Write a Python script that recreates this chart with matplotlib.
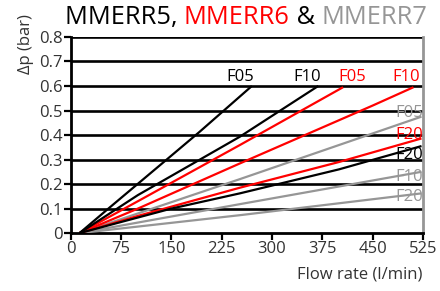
import matplotlib
matplotlib.use("Agg")
import matplotlib.pyplot as plt

plt.rcParams["font.family"] = ["Open Sans", "DejaVu Sans"]

BLACK = "#000000"
RED = "#ff0000"
GRAY = "#969696"

# flow rate (l/min) and pressure drop (bar)
mmerr5_f05_x = [13, 56, 143, 192, 270]
mmerr5_f05_y = [0.0, 0.10, 0.30, 0.413, 0.60]
mmerr5_f10_x = [13, 100, 252, 369]
mmerr5_f10_y = [0.0, 0.155, 0.393, 0.60]
mmerr5_f20_x = [13, 150, 252, 400, 523]
mmerr5_f20_y = [0.0, 0.10, 0.162, 0.26, 0.355]

mmerr6_f05_x = [13, 100, 252, 406]
mmerr6_f05_y = [0.0, 0.13, 0.359, 0.595]
mmerr6_f10_x = [13, 100, 252, 450, 511]
mmerr6_f10_y = [0.0, 0.10, 0.284, 0.52, 0.595]
mmerr6_f20_x = [13, 100, 252, 400, 523]
mmerr6_f20_y = [0.0, 0.07, 0.185, 0.29, 0.386]

mmerr7_f05_x = [13, 252, 523]
mmerr7_f05_y = [0.0, 0.22, 0.475]
mmerr7_f10_x = [13, 252, 523]
mmerr7_f10_y = [0.0, 0.118, 0.25]
mmerr7_f20_x = [13, 252, 523]
mmerr7_f20_y = [0.0, 0.073, 0.162]

series = [
    (mmerr7_f20_x, mmerr7_f20_y, GRAY),
    (mmerr7_f10_x, mmerr7_f10_y, GRAY),
    (mmerr7_f05_x, mmerr7_f05_y, GRAY),
    (mmerr6_f20_x, mmerr6_f20_y, RED),
    (mmerr6_f10_x, mmerr6_f10_y, RED),
    (mmerr6_f05_x, mmerr6_f05_y, RED),
    (mmerr5_f20_x, mmerr5_f20_y, BLACK),
    (mmerr5_f10_x, mmerr5_f10_y, BLACK),
    (mmerr5_f05_x, mmerr5_f05_y, BLACK),
]

# curve labels
top_labels = [("F05", 253, BLACK), ("F10", 352, BLACK),
              ("F05", 419, RED), ("F10", 500, RED)]
side_labels = [("F05", 0.49, GRAY), ("F20", 0.40, RED), ("F20", 0.318, BLACK),
               ("F10", 0.23, GRAY), ("F20", 0.148, GRAY)]

x_ticks = [0, 75, 150, 225, 300, 375, 450, 525]
y_ticks = [0, 0.1, 0.2, 0.3, 0.4, 0.5, 0.6, 0.7, 0.8]
y_ticklabels = ["0", "0.1", "0.2", "0.3", "0.4", "0.5", "0.6", "0.7", "0.8"]

fig = plt.figure(figsize=(4.4, 2.91), dpi=100)
ax = fig.add_axes([0.161, 0.199, 0.8, 0.674])

for y in y_ticks[1:]:
    ax.axhline(y, color=BLACK, lw=1.9, zorder=1)

for xs, ys, c in series:
    ax.plot(xs, ys, color=c, lw=1.6, zorder=3, solid_capstyle="butt")

for txt, x, c in top_labels:
    ax.text(x, 0.62, txt, color=c, fontsize=12, ha="center", va="baseline", zorder=4)
for txt, y, c in side_labels:
    ax.text(525, y, txt, color=c, fontsize=12, ha="right", va="center", zorder=4)

ax.set_xlim(0, 525)
ax.set_ylim(0, 0.8)
ax.set_xticks(x_ticks)
ax.set_yticks(y_ticks)
ax.set_yticklabels(y_ticklabels)
ax.tick_params(axis="both", labelsize=12, colors=BLACK, labelcolor="#333333",
               direction="out", length=5, width=1.6, pad=1)

for side in ["left", "bottom"]:
    ax.spines[side].set_color(BLACK)
    ax.spines[side].set_linewidth(2)
ax.spines["top"].set_visible(False)
ax.spines["right"].set_color(GRAY)
ax.spines["right"].set_linewidth(2)

ax.set_xlabel("Flow rate (l/min)", fontsize=12, color="#333333")
ax.xaxis.set_label_coords(1.0, -0.21)
ax.xaxis.label.set_ha("right")
ax.xaxis.label.set_va("center")
ax.set_ylabel("Δp (bar)", fontsize=12, color="#333333")
ax.yaxis.set_label_coords(-0.15, 0.965)
ax.yaxis.label.set_ha("center")
ax.yaxis.label.set_va("top")

# title in three colours, laid out piece by piece
renderer = fig.canvas.get_renderer()
parts = [("MMERR5, ", BLACK), ("MMERR6", RED), (" & ", BLACK), ("MMERR7", GRAY)]
texts = []
for s, c in parts:
    t = fig.text(0, 0.918, s, color=c, fontsize=18.3, ha="left", va="baseline")
    texts.append(t)
widths = [t.get_window_extent(renderer).width for t in texts]
total = sum(widths)
x0 = 246 - total / 2
for t, w in zip(texts, widths):
    t.set_x(x0 / 440)
    x0 += w

fig.savefig("out.png", dpi=100)
